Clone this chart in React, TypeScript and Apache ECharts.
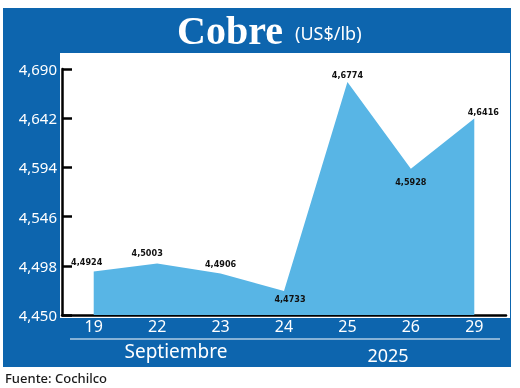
import React, { useEffect, useRef } from "react";
import * as echarts from "echarts";

const categories = ["19", "22", "23", "24", "25", "26", "29"];
const values = [4.4924, 4.5003, 4.4906, 4.4733, 4.6774, 4.5928, 4.6416];
const valueLabels = ["4,4924", "4,5003", "4,4906", "4,4733", "4,6774", "4,5928", "4,6416"];
const yTicks = [4.45, 4.498, 4.546, 4.594, 4.642, 4.69];
const yTickLabels = ["4,450", "4,498", "4,546", "4,594", "4,642", "4,690"];
const title = "Cobre";
const unit = "(US$/lb)";
const monthLabel = "Septiembre";
const yearLabel = "2025";
const source = "Fuente: Cochilco";

const BLUE = "#0d65ae";
const AREA = "#58b5e5";

export default function App() {
  const ref = useRef<HTMLDivElement>(null);
  useEffect(() => {
    if (!ref.current) return;
    const chart = echarts.init(ref.current, null, { renderer: "svg" });
    const labelStyle = [
      { position: "top", offset: [-7, 0] },
      { position: "top", offset: [-10, 0] },
      { position: "top", offset: [0, 1] },
      { position: "bottom", offset: [6, -2] },
      { position: "top", offset: [0, 3] },
      { position: "bottom", offset: [0, 3] },
      { position: "top", offset: [9, 3] },
    ];
    chart.setOption({
      animation: false,
      graphic: [
        { type: "rect", z: -10, shape: { x: 3, y: 8, width: 508, height: 359 }, style: { fill: BLUE } },
        { type: "rect", z: -9, shape: { x: 60, y: 53, width: 450, height: 265 }, style: { fill: "#ffffff" } },
        {
          type: "text", z: 5, x: 230, y: 30,
          style: { text: title, fill: "#ffffff", font: "bold 40px 'Liberation Serif', 'DejaVu Serif', serif", align: "center", verticalAlign: "middle" },
        },
        {
          type: "text", z: 5, x: 295, y: 33,
          style: { text: unit, fill: "#ffffff", font: "18px 'Noto Sans', sans-serif", align: "left", verticalAlign: "middle" },
        },
        { type: "line", z: 5, shape: { x1: 70, y1: 339, x2: 500, y2: 339 }, style: { stroke: "#ffffff", lineWidth: 1.2 } },
        {
          type: "text", z: 5, x: 176, y: 351,
          style: { text: monthLabel, fill: "#ffffff", font: "19px 'Noto Sans', sans-serif", align: "center", verticalAlign: "middle" },
        },
        {
          type: "text", z: 5, x: 388, y: 355,
          style: { text: yearLabel, fill: "#ffffff", font: "18px 'Noto Sans', sans-serif", align: "center", verticalAlign: "middle" },
        },
        {
          type: "text", z: 5, x: 5, y: 378,
          style: { text: source, fill: "#1a1a1a", font: "500 13px 'Noto Sans', sans-serif", align: "left", verticalAlign: "middle" },
        },
      ],
      grid: { left: 62, right: 14, top: 69, bottom: 73 },
      xAxis: {
        type: "category",
        data: categories,
        boundaryGap: true,
        axisLine: { show: true, lineStyle: { color: "#000000", width: 2.5 } },
        axisTick: { show: false },
        axisLabel: { color: "#ffffff", fontSize: 16, fontFamily: "'Noto Sans', sans-serif", margin: 3 },
        splitLine: { show: false },
      },
      yAxis: {
        type: "value",
        min: yTicks[0],
        max: yTicks[yTicks.length - 1],
        axisLine: { show: true, lineStyle: { color: "#000000", width: 2.5 } },
        axisTick: { show: true, inside: true, length: 10, customValues: yTicks, lineStyle: { color: "#000000", width: 2.5 } },
        axisLabel: {
          customValues: yTicks,
          color: "#ffffff",
          fontSize: 15,
          fontFamily: "'Noto Sans', sans-serif",
          margin: 5,
          formatter: (v: number) => {
            const i = yTicks.findIndex((t) => Math.abs(t - v) < 1e-6);
            return i >= 0 ? yTickLabels[i] : "";
          },
        },
        splitLine: { show: false },
      },
      series: [
        {
          type: "line",
          data: values.map((v, i) => ({
            value: v,
            label: { position: labelStyle[i].position, offset: labelStyle[i].offset },
          })),
          symbol: "circle",
          symbolSize: 1,
          showSymbol: true,
          itemStyle: { color: "rgba(0,0,0,0)" },
          lineStyle: { width: 0 },
          areaStyle: { color: AREA, opacity: 1, origin: "start" },
          label: {
            show: true,
            color: "#111111",
            fontSize: 9,
            fontWeight: "bold",
            fontFamily: "'Liberation Sans Narrow', 'DejaVu Sans Condensed', sans-serif",
            formatter: (p: any) => valueLabels[p.dataIndex],
          },
        },
      ],
    });
    return () => chart.dispose();
  }, []);
  return <div ref={ref} style={{ position: "fixed", left: 0, top: 0, width: 520, height: 388 }} />;
}
